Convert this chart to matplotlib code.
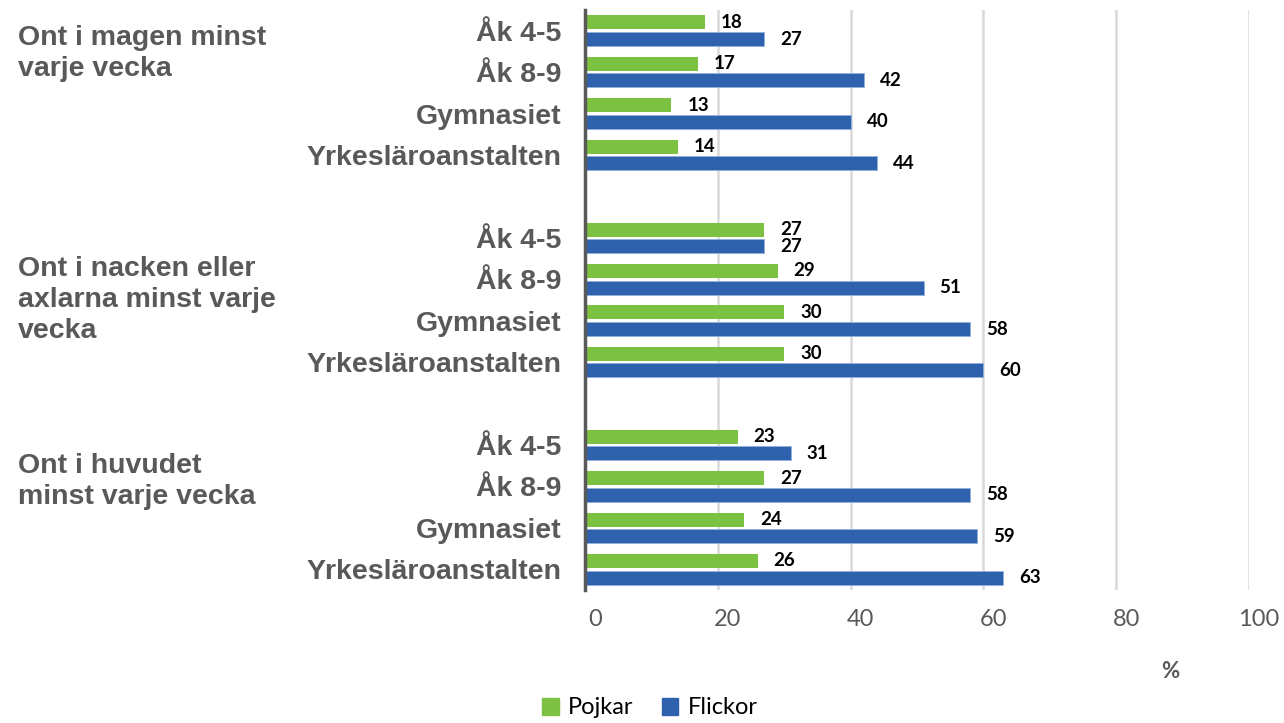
import numpy as np
import matplotlib.pyplot as plt
import matplotlib.transforms as mtransforms
from matplotlib.patches import Patch

# --- Data ---
groups = ["Ont i magen minst\nvarje vecka",
          "Ont i nacken eller\naxlarna minst varje\nvecka",
          "Ont i huvudet\nminst varje vecka"]
levels = ["Åk 4-5", "Åk 8-9", "Gymnasiet", "Yrkesläroanstalten"]
pojkar = [18, 17, 13, 14,
          27, 29, 30, 30,
          23, 27, 24, 26]
flickor = [27, 42, 40, 44,
           27, 51, 58, 60,
           31, 58, 59, 63]
xticks = [0, 20, 40, 60, 80, 100]

GREEN = "#7dc142"
BLUE = "#2e62ad"
GREY = "#595959"

# --- Layout ---
fig = plt.figure(figsize=(12.84, 7.23), dpi=100)
ax = fig.add_axes([585 / 1284, 1 - 590 / 723, 664 / 1284, 580 / 723])

# one blank slot between the three groups
slots = np.array([g * 5 + i for g in range(len(groups)) for i in range(len(levels))])
h = 0.34
ax.barh(slots - 0.2, pojkar, height=h, color=GREEN, zorder=3)
ax.barh(slots + 0.2, flickor, height=h, color=BLUE, edgecolor="#8fb0dd",
        linewidth=0.6, zorder=3)

lbl_off = mtransforms.offset_copy(ax.transData, fig=fig, x=16, y=0, units="dots")
for s, p, f in zip(slots, pojkar, flickor):
    ax.text(p, s - 0.2, str(p), transform=lbl_off, ha="left", va="center",
            fontsize=13.5, fontweight="bold", family="Lato", color="black")
    ax.text(f, s + 0.2, str(f), transform=lbl_off, ha="left", va="center",
            fontsize=13.5, fontweight="bold", family="Lato", color="black")

ax.set_xlim(0, 100)
ax.set_ylim(13.5, -0.5)
ax.set_yticks(slots)
ax.set_yticklabels(levels * len(groups), fontsize=20.5, fontweight="bold",
                   color=GREY, family="Liberation Sans")
ax.tick_params(axis="y", length=0, pad=17)

ax.set_xticks(xticks)
ax.set_xticklabels([str(t) for t in xticks], fontsize=17, color=GREY, family="Lato")
ax.tick_params(axis="x", length=0, pad=14)
shift = mtransforms.ScaledTranslation(10 / 100, 0, fig.dpi_scale_trans)
for t in ax.get_xticklabels():
    t.set_transform(t.get_transform() + shift)

ax.grid(axis="x", color="#d9d9d9", linewidth=1.8, zorder=0)
for side in ["top", "right", "bottom"]:
    ax.spines[side].set_visible(False)
ax.spines["left"].set_color(GREY)
ax.spines["left"].set_linewidth(2.5)
ax.spines["left"].set_zorder(4)

# group labels on the far left
group_y = [0.54, 6.5, 10.88]
grp_tr = mtransforms.blended_transform_factory(fig.transFigure, ax.transData)
for name, gy in zip(groups, group_y):
    ax.text(18 / 1284, gy, name, transform=grp_tr,
            ha="left", va="center", fontsize=20.5, fontweight="bold", color=GREY,
            family="Liberation Sans", linespacing=1.25)

fig.text(1170 / 1284, 1 - 672 / 723, "%", ha="center", va="center",
         fontsize=16, fontweight="bold", color=GREY, family="Lato")

handles = [Patch(color=GREEN, label="Pojkar"), Patch(color=BLUE, label="Flickor")]
fig.legend(handles=handles, loc="center", bbox_to_anchor=(650 / 1284, 1 - 708 / 723),
           ncol=2, frameon=False, prop={"family": "Lato", "size": 17},
           handlelength=0.7, handleheight=0.7, handletextpad=0.4, columnspacing=1.2)

fig.savefig("out.png", dpi=100)
